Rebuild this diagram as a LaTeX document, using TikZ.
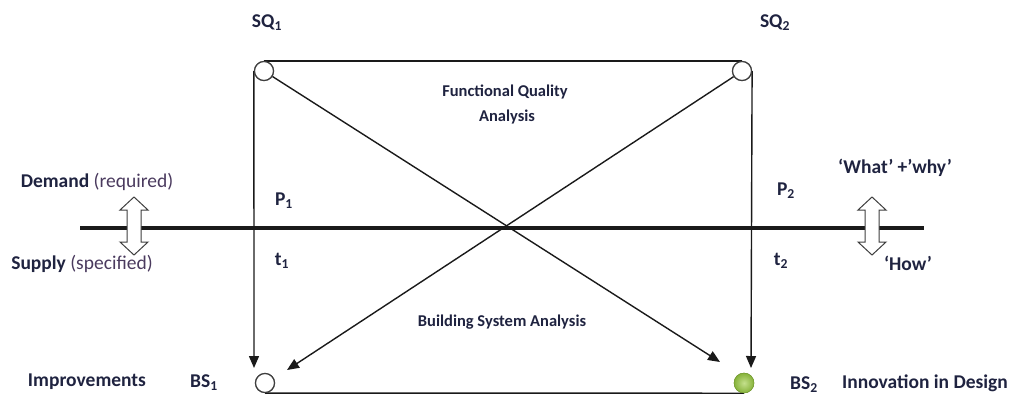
\documentclass[tikz,border=0pt]{standalone}
\usepackage{fontspec}
\setmainfont{Carlito}
\usetikzlibrary{arrows.meta}
\definecolor{txt}{HTML}{1F2340}
\definecolor{txtr}{HTML}{4A3A5E}
\definecolor{ln}{HTML}{1A1A1A}
\definecolor{circ}{HTML}{3F3F3F}
\definecolor{grn}{HTML}{86B23A}
\definecolor{grnlight}{HTML}{C4E08C}
\begin{document}
\begin{tikzpicture}[x=1pt,y=-1pt,
  lbl/.style={font=\fontsize{19.5}{22}\selectfont\bfseries, text=txt, inner sep=0pt},
  sublbl/.style={lbl, font=\fontsize{16.5}{25}\selectfont\bfseries},
  ring/.style={circle, draw=circ, line width=1.2pt, fill=white, minimum size=19pt, inner sep=0pt},
  greenball/.style={circle, minimum size=20pt, inner sep=0pt, inner color=grnlight, outer color=grn, draw=grn!85!black, line width=0.4pt},
  conn/.style={draw=ln, line width=1.4pt},
  arr/.style={conn, -{Triangle[length=12pt,width=10pt]}},
  axis/.style={draw=ln, line width=4pt},
  dblarrow/.style={draw=circ, fill=white, line width=1pt, line join=miter}
]
\useasboundingbox (0,0) rectangle (1014,397);
% main axis
\coordinate (hl) at (80,228);
\coordinate (hr) at (924,228);
\draw[axis] (hl) -- (hr);

% node positions
\coordinate (c1) at (264,71);
\coordinate (c2) at (742,71);
\coordinate (c3) at (265,383);
\coordinate (c4) at (744,383);
\path (c1) node[ring] (sq1) {};
\path (c2) node[ring] (sq2) {};
\path (c3) node[ring] (bs1) {};
\path (c4) node[greenball] (bs2) {};

% arrow end points
\coordinate (a1) at (254,368);
\coordinate (a2) at (751,368);
\coordinate (a3) at (720,362);
\coordinate (a4) at (287,370);

% connectors
\draw[conn] (sq1.north) -- (sq2.north);
\draw[conn] (bs1.south) -- (bs2.south);
\draw[arr] (sq1.west) -- (a1);
\draw[arr] (sq2.east) -- (a2);
\draw[arr] (sq1.-33) -- (a3);
\draw[arr] (sq2.-146) -- (a4);

% redraw circles on top
\path (c1) node[ring] {};
\path (c2) node[ring] {};
\path (c3) node[ring] {};
\path (c4) node[greenball] {};

% double arrows
\draw[dblarrow] (134,197) -- (148,210) -- (141,210) -- (141,242) -- (148,242) -- (134,255)
  -- (120,242) -- (127,242) -- (127,210) -- (120,210) -- cycle;
\draw[dblarrow] (872,197) -- (886,210) -- (879,210) -- (879,242) -- (886,242) -- (872,255)
  -- (858,242) -- (865,242) -- (865,210) -- (858,210) -- cycle;

% labels
\node[lbl] (tsq1) at (267,23) {SQ\textsubscript{1}};
\node[lbl] (tsq2) at (775,23) {SQ\textsubscript{2}};
\node[sublbl] (tfq) at (505,92) {Functional Quality};
\node[sublbl] (tan) at (507,117) {Analysis};
\node[sublbl] (tbsa) at (502,322) {Building System Analysis};
\node[lbl] (tdem) at (97,182) {Demand \textmd{\color{txtr}(required)}};
\node[lbl] (tsup) at (82,264) {Supply \textmd{\color{txtr}(specified)}};
\node[lbl] (tp1) at (284,201) {P\textsubscript{1}};
\node[lbl] (tt1) at (282,261) {t\textsubscript{1}};
\node[lbl] (tp2) at (786,191) {P\textsubscript{2}};
\node[lbl] (tt2) at (781,261) {t\textsubscript{2}};
\node[lbl] (twhat) at (895,168) {‘What’ +’why’};
\node[lbl] (thow) at (908,263) {‘How’};
\node[lbl] (timp) at (87,382) {Improvements};
\node[lbl] (tbs1) at (204,383) {BS\textsubscript{1}};
\node[lbl] (tbs2) at (804,385) {BS\textsubscript{2}};
\node[lbl] (tinn) at (925,383) {Innovation in Design};
\end{tikzpicture}
\end{document}
